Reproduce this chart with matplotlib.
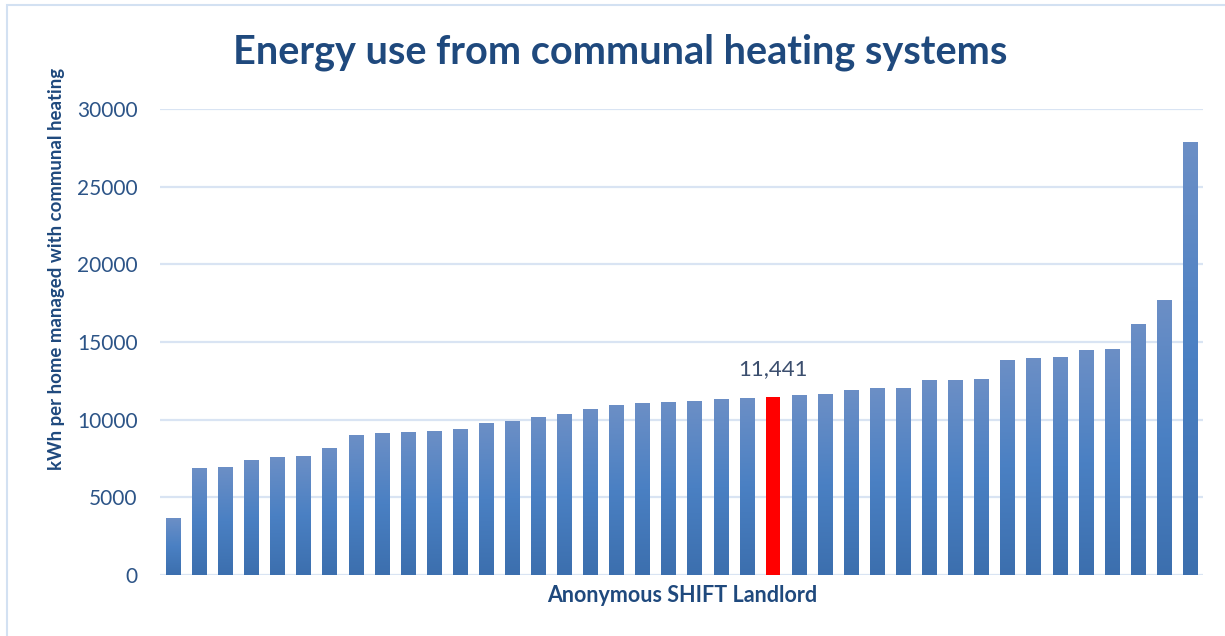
import numpy as np
import matplotlib
matplotlib.use("Agg")
import matplotlib.pyplot as plt
from matplotlib.colors import LinearSegmentedColormap
from matplotlib.patches import Rectangle

# Energy use per home, sorted, one bar per anonymous landlord
landlords = [f"Landlord {i + 1}" for i in range(40)]
kwh_per_home = [3650, 6860, 6930, 7380, 7570, 7640, 8150, 8990, 9120, 9180,
                9250, 9370, 9760, 9890, 10150, 10340, 10660, 10920, 11050, 11110,
                11180, 11300, 11370, 11441, 11560, 11630, 11880, 12010, 12010, 12530,
                12550, 12610, 13840, 13960, 14030, 14480, 14540, 16150, 17700, 27860]
highlight = 23
highlight_label = "11,441"

plt.rcParams["font.family"] = ["Lato", "DejaVu Sans"]

title_col = "#1F497D"
tick_col = "#2C5487"
grid_col = "#D9E4F3"

fig = plt.figure(figsize=(12.25, 6.36), dpi=100)
ax = fig.add_axes([160 / 1225, 61 / 636, 1043 / 1225, 466 / 636])

# light blue frame round the chart, cut off at right and bottom
fig.patches.append(Rectangle((7 / 1225, -0.1), 1.2, (632 + 63) / 636, transform=fig.transFigure,
                             fill=False, edgecolor="#D3E1F2", linewidth=1.5, zorder=0))

x = np.arange(len(kwh_per_home))
width = 0.54
grad = LinearSegmentedColormap.from_list("bar", ["#3C6FAE", "#4A80C3", "#6C8FC6"])
gradient = np.linspace(0, 1, 256).reshape(-1, 1)

for xi, v in zip(x, kwh_per_home):
    if xi == highlight:
        ax.bar(xi, v, width=width, color="#FF0000", zorder=3)
    else:
        ax.imshow(gradient, cmap=grad, origin="lower", aspect="auto",
                  extent=[xi - width / 2, xi + width / 2, 0, v], zorder=3)

ax.annotate(highlight_label, (highlight, kwh_per_home[highlight]), xytext=(0, 13),
            textcoords="offset points", ha="center", va="bottom",
            fontsize=16, color="#3B4E6E")

ax.set_xlim(-0.5, len(kwh_per_home) - 0.5)
ax.set_ylim(0, 30000)
ax.set_yticks(range(0, 30001, 5000))
ax.set_xticks([])
ax.grid(axis="y", color=grid_col, linewidth=1.6, zorder=0)
ax.set_axisbelow(True)
for s in ax.spines.values():
    s.set_visible(False)
ax.tick_params(axis="y", length=0, pad=16, labelsize=15, labelcolor=tick_col)

fig.text(620 / 1225, 1 - 52 / 636, "Energy use from communal heating systems",
         ha="center", va="center", fontsize=28.5, fontweight="bold", color=title_col)
fig.text(682 / 1225, 1 - 595 / 636, "Anonymous SHIFT Landlord",
         ha="center", va="center", fontsize=15.5, fontweight="bold", color=title_col)
fig.text(57 / 1225, 1 - 269 / 636, "kWh per home managed with communal heating",
         ha="center", va="center", rotation=90, fontsize=13.4, fontweight="bold", color=title_col)

fig.savefig("out.png", dpi=100)
